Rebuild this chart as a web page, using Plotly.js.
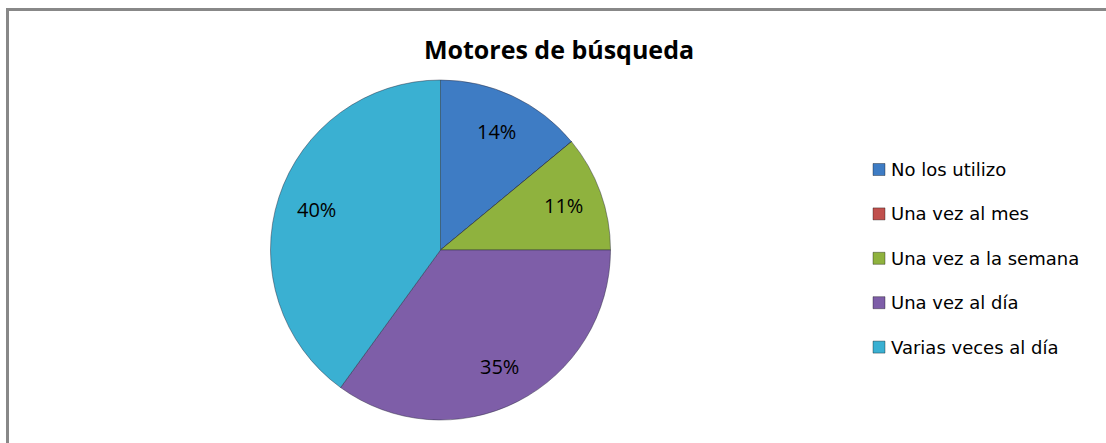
<!DOCTYPE html>
<html>
<head>
<meta charset="utf-8">
<script src="https://cdn.plot.ly/plotly-3.0.1.min.js"></script>
<style>
  html, body { margin: 0; padding: 0; background: #fff; }
  #wrap { position: relative; width: 1106px; height: 443px; overflow: hidden; }
  #frame { position: absolute; left: 6px; top: 8px; width: 1200px; height: 500px;
           border-left: 3px solid #888; border-top: 3px solid #888; pointer-events: none; }
  #chart { position: absolute; left: 0; top: 0; width: 1106px; height: 443px; }
</style>
</head>
<body>
<div id="wrap">
  <div id="chart"></div>
  <div id="frame"></div>
</div>
<script>
const chartTitle = 'Motores de búsqueda';
const categories = ['No los utilizo', 'Una vez al mes', 'Una vez a la semana', 'Una vez al día', 'Varias veces al día'];
const values = [14, 0, 11, 35, 40];
const colors = ['#3e7cc4', '#c0504d', '#8fb23e', '#7e5ea8', '#3ab0d2'];

const sliceText = values.map(v => v > 0 ? v + '%' : '');

const W = 1106, H = 443;
const cx = 440.5, cy = 250, r = 170;

const trace = {
  type: 'pie',
  labels: categories,
  values: values,
  textinfo: 'none',
  sort: false,
  direction: 'clockwise',
  rotation: 0,
  marker: { colors: colors, line: { color: 'rgba(40,40,60,0.45)', width: 1 } },
  domain: { x: [(cx - r) / W, (cx + r) / W], y: [1 - (cy + r) / H, 1 - (cy - r) / H] },
  hoverinfo: 'label+percent',
  showlegend: false
};

const shapes = [], annotations = [];

// Slice labels placed at the middle angle of each slice (from the values)
const total = values.reduce((a, b) => a + b, 0);
let cum = 0;
values.forEach((v, i) => {
  const mid = (cum + v / 2) / total * 2 * Math.PI;
  cum += v;
  if (v <= 0) return;
  const px = cx + 0.77 * r * Math.sin(mid);
  const py = cy - 0.77 * r * Math.cos(mid);
  annotations.push({
    xref: 'paper', yref: 'paper', x: px / W, y: 1 - py / H,
    xanchor: 'center', yanchor: 'middle', showarrow: false, text: sliceText[i],
    font: { family: 'Open Sans, DejaVu Sans, sans-serif', size: 20, color: '#000' }
  });
});

// Legend built from the category and colour arrays
const legX0 = 873, legY0 = 169.5, legStep = 44.4, sq = 12;
categories.forEach((c, i) => {
  const yc = legY0 + i * legStep;
  shapes.push({
    type: 'rect', xref: 'paper', yref: 'paper',
    x0: legX0 / W, x1: (legX0 + sq) / W,
    y0: 1 - (yc + sq / 2) / H, y1: 1 - (yc - sq / 2) / H,
    fillcolor: colors[i], line: { color: 'rgba(0,0,0,0.35)', width: 1 }
  });
  annotations.push({
    xref: 'paper', yref: 'paper', x: (legX0 + sq + 4) / W, y: 1 - yc / H,
    xanchor: 'left', yanchor: 'middle', showarrow: false, text: c,
    font: { family: 'DejaVu Sans, sans-serif', size: 18, color: '#000' }
  });
});

const layout = {
  width: W, height: H,
  margin: { l: 0, r: 0, t: 0, b: 0 },
  paper_bgcolor: '#fff',
  title: {
    text: '<b>' + chartTitle + '</b>',
    x: 559 / W, xanchor: 'center', y: 1 - 50 / H, yanchor: 'middle',
    font: { family: 'Open Sans, sans-serif', size: 25, color: '#000' }
  },
  showlegend: false,
  shapes: shapes,
  annotations: annotations
};

Plotly.newPlot('chart', [trace], layout, { displayModeBar: false, staticPlot: true });
</script>
</body>
</html>
